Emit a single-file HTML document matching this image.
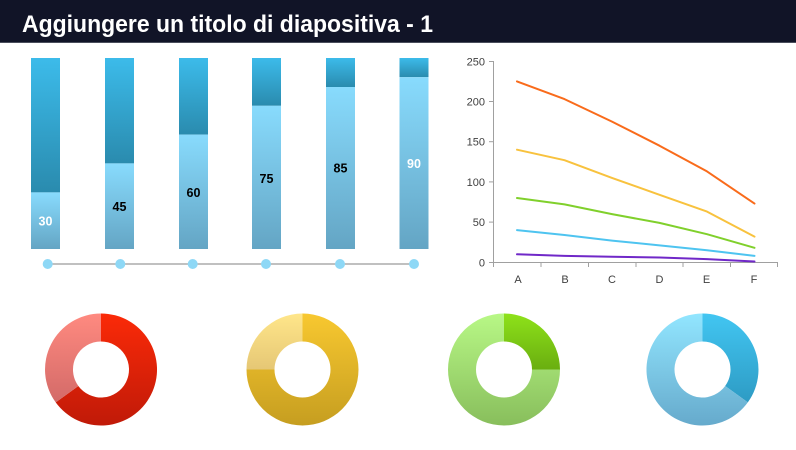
<!DOCTYPE html>
<html><head><meta charset="utf-8"><style>
html,body{margin:0;padding:0;background:#fff;}
svg{display:block;}
</style></head><body>
<svg width="796" height="450" viewBox="0 0 796 450" xmlns="http://www.w3.org/2000/svg">
<defs>
<linearGradient id="bd" x1="0" y1="0" x2="0" y2="1"><stop offset="0" stop-color="#3CBBEA"/><stop offset="1" stop-color="#2A8BAE"/></linearGradient>
<linearGradient id="bl" x1="0" y1="0" x2="0" y2="1"><stop offset="0" stop-color="#88DBFD"/><stop offset="1" stop-color="#64A5C4"/></linearGradient>
<linearGradient id="rd" gradientUnits="userSpaceOnUse" x1="0" y1="313.5" x2="0" y2="425.5"><stop offset="0" stop-color="#FB2A08"/><stop offset="1" stop-color="#C01A08"/></linearGradient>
<linearGradient id="rl" gradientUnits="userSpaceOnUse" x1="0" y1="313.5" x2="0" y2="425.5"><stop offset="0" stop-color="#FF8A80"/><stop offset="1" stop-color="#C86262"/></linearGradient>
<linearGradient id="yd" gradientUnits="userSpaceOnUse" x1="0" y1="313.5" x2="0" y2="425.5"><stop offset="0" stop-color="#F8C830"/><stop offset="1" stop-color="#C69E20"/></linearGradient>
<linearGradient id="yl" gradientUnits="userSpaceOnUse" x1="0" y1="313.5" x2="0" y2="425.5"><stop offset="0" stop-color="#FFE68A"/><stop offset="1" stop-color="#CCA860"/></linearGradient>
<linearGradient id="gd" gradientUnits="userSpaceOnUse" x1="0" y1="313.5" x2="0" y2="425.5"><stop offset="0" stop-color="#8EE21A"/><stop offset="0.5" stop-color="#6AAE10"/><stop offset="1" stop-color="#5A9A10"/></linearGradient>
<linearGradient id="gl" gradientUnits="userSpaceOnUse" x1="0" y1="313.5" x2="0" y2="425.5"><stop offset="0" stop-color="#B8F886"/><stop offset="1" stop-color="#88BE5C"/></linearGradient>
<linearGradient id="ud" gradientUnits="userSpaceOnUse" x1="0" y1="313.5" x2="0" y2="425.5"><stop offset="0" stop-color="#42C6F2"/><stop offset="1" stop-color="#2890B8"/></linearGradient>
<linearGradient id="ul" gradientUnits="userSpaceOnUse" x1="0" y1="313.5" x2="0" y2="425.5"><stop offset="0" stop-color="#92E6FF"/><stop offset="1" stop-color="#66AACC"/></linearGradient>
</defs>

<!-- Title bar -->
<rect x="0" y="0" width="796" height="43" fill="#111427"/>
<rect x="0" y="42" width="796" height="1" fill="#4A4E5C"/>
<text x="22" y="32" font-family="Liberation Sans, sans-serif" font-weight="bold" font-size="24" fill="#ffffff" textLength="411" lengthAdjust="spacingAndGlyphs">Aggiungere un titolo di diapositiva - 1</text>

<!-- Bars -->
<g>
<rect x="31" y="58" width="29" height="134.4" fill="url(#bd)"/>
<rect x="31" y="192.4" width="29" height="56.6" fill="url(#bl)"/>
<rect x="105" y="58" width="29" height="105.4" fill="url(#bd)"/>
<rect x="105" y="163.4" width="29" height="85.6" fill="url(#bl)"/>
<rect x="179" y="58" width="29" height="76.6" fill="url(#bd)"/>
<rect x="179" y="134.6" width="29" height="114.4" fill="url(#bl)"/>
<rect x="252" y="58" width="29" height="47.8" fill="url(#bd)"/>
<rect x="252" y="105.8" width="29" height="143.2" fill="url(#bl)"/>
<rect x="326" y="58" width="29" height="29" fill="url(#bd)"/>
<rect x="326" y="87" width="29" height="162" fill="url(#bl)"/>
<rect x="399.5" y="58" width="29" height="19.2" fill="url(#bd)"/>
<rect x="399.5" y="77.2" width="29" height="171.8" fill="url(#bl)"/>
</g>
<g font-family="Liberation Sans, sans-serif" font-weight="bold" font-size="12.5" text-anchor="middle">
<text x="45.5" y="225.5" fill="#ffffff">30</text>
<text x="119.5" y="211" fill="#000000">45</text>
<text x="193.5" y="197" fill="#000000">60</text>
<text x="266.5" y="183" fill="#000000">75</text>
<text x="340.5" y="172.5" fill="#000000">85</text>
<text x="414" y="168" fill="#ffffff">90</text>
</g>
<line x1="48" y1="264" x2="414" y2="264" stroke="#9A9A9A" stroke-width="1.3"/>
<g fill="#8ED8F6">
<circle cx="47.7" cy="264" r="5"/>
<circle cx="120.3" cy="264" r="5"/>
<circle cx="192.7" cy="264" r="5"/>
<circle cx="266" cy="264" r="5"/>
<circle cx="340" cy="264" r="5"/>
<circle cx="414" cy="264" r="5"/>
</g>

<!-- Line chart axes -->
<g stroke="#A0A0A0" stroke-width="1">
<line x1="493.5" y1="61" x2="493.5" y2="262.5"/>
<line x1="493.5" y1="262.5" x2="778" y2="262.5"/>
<line x1="489" y1="61.5" x2="493.5" y2="61.5"/>
<line x1="489" y1="101.5" x2="493.5" y2="101.5"/>
<line x1="489" y1="141.7" x2="493.5" y2="141.7"/>
<line x1="489" y1="181.9" x2="493.5" y2="181.9"/>
<line x1="489" y1="222.1" x2="493.5" y2="222.1"/>
<line x1="489" y1="262.5" x2="493.5" y2="262.5"/>
<line x1="493.5" y1="262.5" x2="493.5" y2="267"/>
<line x1="541" y1="262.5" x2="541" y2="267"/>
<line x1="588.5" y1="262.5" x2="588.5" y2="267"/>
<line x1="636" y1="262.5" x2="636" y2="267"/>
<line x1="683" y1="262.5" x2="683" y2="267"/>
<line x1="730.5" y1="262.5" x2="730.5" y2="267"/>
<line x1="777.5" y1="262.5" x2="777.5" y2="267"/>
</g>
<g font-family="Liberation Sans, sans-serif" font-size="11" fill="#404040" text-anchor="end">
<text x="485" y="65.5">250</text>
<text x="485" y="105.5">200</text>
<text x="485" y="145.7">150</text>
<text x="485" y="185.9">100</text>
<text x="485" y="226.1">50</text>
<text x="485" y="266.5">0</text>
</g>
<g font-family="Liberation Sans, sans-serif" font-size="11" fill="#404040" text-anchor="middle">
<text x="518" y="283">A</text>
<text x="565" y="283">B</text>
<text x="612" y="283">C</text>
<text x="659.5" y="283">D</text>
<text x="706.5" y="283">E</text>
<text x="754" y="283">F</text>
</g>
<g fill="none" stroke-width="2" stroke-linejoin="round" stroke-linecap="round">
<polyline stroke="#F96B1B" points="517,81.4 564.5,99.1 612,121.6 659.5,145.7 707,171.4 754.5,203.6"/>
<polyline stroke="#F8C23E" points="517,149.7 564.5,160.2 612,177.9 659.5,194.8 707,211.6 754.5,236.6"/>
<polyline stroke="#80D02C" points="517,198 564.5,204.4 612,214.1 659.5,222.9 707,234.2 754.5,247.8"/>
<polyline stroke="#4EC4F0" points="517,230.1 564.5,235 612,240.6 659.5,245.4 707,250.2 754.5,255.9"/>
<polyline stroke="#7028C8" points="517,254.3 564.5,255.9 612,256.7 659.5,257.5 707,259.1 754.5,261.5"/>
</g>

<!-- Donuts -->
<path fill="url(#rd)" d="M101,313.5 A56,56 0 1 1 55.7,402.4 L78.35,385.96 A28,28 0 1 0 101,341.5 Z"/>
<path fill="url(#rl)" d="M55.7,402.4 A56,56 0 0 1 101,313.5 L101,341.5 A28,28 0 0 0 78.35,385.96 Z"/>

<path fill="url(#yd)" d="M302.5,313.5 A56,56 0 1 1 246.5,369.5 L274.5,369.5 A28,28 0 1 0 302.5,341.5 Z"/>
<path fill="url(#yl)" d="M246.5,369.5 A56,56 0 0 1 302.5,313.5 L302.5,341.5 A28,28 0 0 0 274.5,369.5 Z"/>

<path fill="url(#gd)" d="M504,313.5 A56,56 0 0 1 560,369.5 L532,369.5 A28,28 0 0 0 504,341.5 Z"/>
<path fill="url(#gl)" d="M560,369.5 A56,56 0 1 1 504,313.5 L504,341.5 A28,28 0 1 0 532,369.5 Z"/>

<path fill="url(#ud)" d="M702.5,313.5 A56,56 0 0 1 747.8,402.4 L725.15,385.96 A28,28 0 0 0 702.5,341.5 Z"/>
<path fill="url(#ul)" d="M747.8,402.4 A56,56 0 1 1 702.5,313.5 L702.5,341.5 A28,28 0 1 0 725.15,385.96 Z"/>
</svg>
</body></html>
